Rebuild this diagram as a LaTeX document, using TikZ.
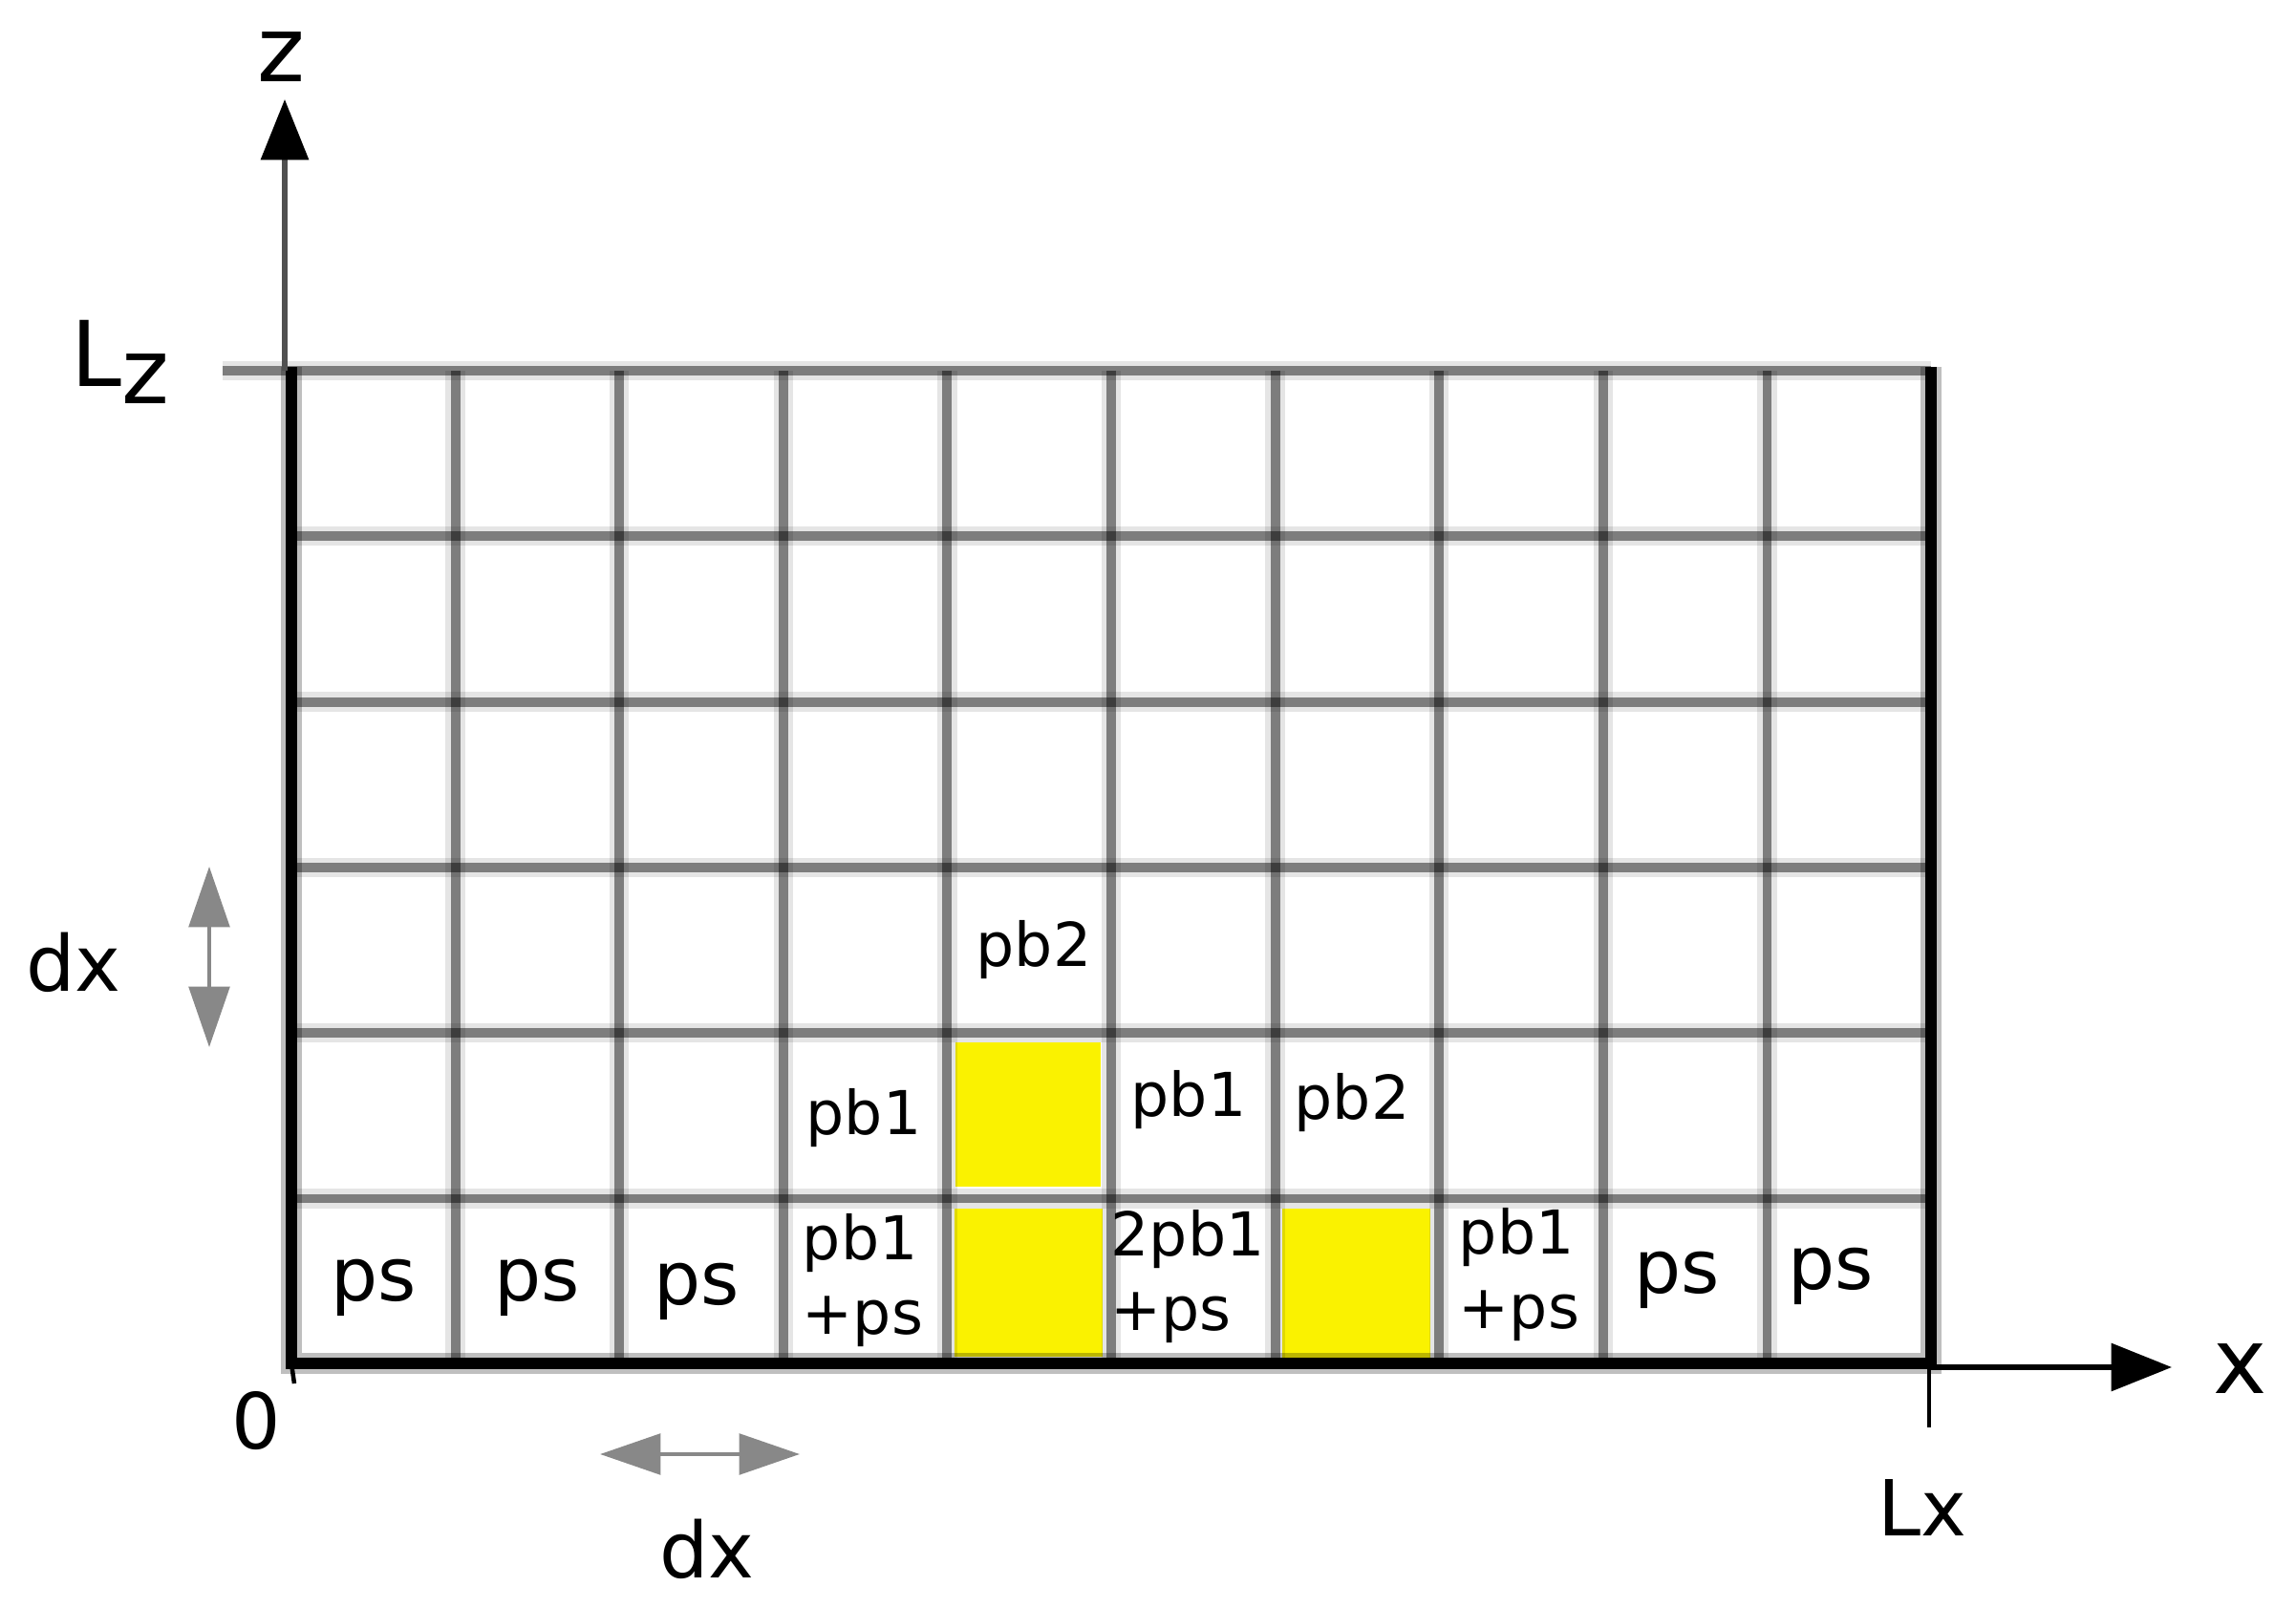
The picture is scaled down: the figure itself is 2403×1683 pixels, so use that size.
\documentclass[tikz,border=0pt]{standalone}
\usepackage{fontspec}
\setmainfont{DejaVu Sans}
\usetikzlibrary{arrows.meta}
\definecolor{cellyellow}{RGB}{250,242,0}
\definecolor{arrowgray}{RGB}{136,136,136}
\definecolor{axisgray}{RGB}{80,80,80}
\begin{document}
\begin{tikzpicture}[x=0.01cm,y=-0.01cm,
  gridhalo/.style={draw=black,draw opacity=0.10,line width=5.8pt},
  gridline/.style={draw=black,draw opacity=0.45,line width=2.8pt},
  borderhalo/.style={draw=black,draw opacity=0.25,line width=6.0pt,line cap=butt,line join=miter},
  borderline/.style={draw=black,line width=3.6pt,line cap=butt,line join=miter},
  yellowcell/.style={fill=cellyellow},
  axisline/.style={draw=axisgray,line width=1.6pt,-{Triangle[length=18pt,width=14pt,color=black]}},
  axisxline/.style={draw=black,line width=1.5pt,-{Triangle[length=18pt,width=14pt,color=black]}},
  dxarrow/.style={draw=arrowgray,line width=1.4pt,{Triangle[length=18pt,width=12pt]}-{Triangle[length=18pt,width=12pt]}},
  ticklinestyle/.style={draw=black,line width=1.3pt},
  cellps/.style={font=\fontsize{22}{26}\selectfont,inner sep=0pt},
  cellpb/.style={font=\fontsize{18}{22}\selectfont,inner sep=0pt,align=left},
  biglabel/.style={font=\fontsize{27}{30}\selectfont,inner sep=0pt},
  midlabel/.style={font=\fontsize{23}{26}\selectfont,inner sep=0pt}]
\useasboundingbox (0,0) rectangle (2403,1683);
\fill[white] (0,0) rectangle (2403,1683);

% yellow cells
\fill[yellowcell] (1000,1091) rectangle (1152,1242);
\fill[yellowcell] (999,1265) rectangle (1154,1420);
\fill[yellowcell] (1342,1265) rectangle (1497,1421);

% grid halo
\foreach \i in {1,...,9}
  \draw[gridhalo] ({305+\i*171.6},388) -- ({305+\i*171.6},1428);
\foreach \j in {1,...,5}
  \draw[gridhalo] (305,{388+\j*173.3}) -- (2021,{388+\j*173.3});
\coordinate (lzend) at (233,388);
\coordinate (topright) at (2021,388);
\draw[gridhalo] (lzend) -- (topright);
% grid core
\foreach \i in {1,...,9}
  \draw[gridline] ({305+\i*171.6},388) -- ({305+\i*171.6},1428);
\foreach \j in {1,...,5}
  \draw[gridline] (305,{388+\j*173.3}) -- (2021,{388+\j*173.3});
\draw[gridline] (lzend) -- (topright);

% borders
\coordinate (tl) at (305,384);
\coordinate (bl) at (305,1427);
\coordinate (br) at (2021,1427);
\coordinate (tr) at (2021,384);
\draw[borderhalo] (tl) -- (bl) -- (br) -- (tr);
\draw[borderline] (tl) -- (bl) -- (br) -- (tr);
\coordinate (otick) at (308,1448);
\draw[ticklinestyle] (bl) -- (otick);

% axes
\coordinate (zbase) at (298,388);
\coordinate (ztip) at (298,104);
\draw[axisline] (zbase) -- (ztip);
\coordinate (xbase) at (2021,1431);
\coordinate (xtip) at (2273,1431);
\draw[axisxline] (xbase) -- (xtip);
\coordinate (lxtop) at (2019,1427);
\coordinate (lxbot) at (2019,1494);
\draw[ticklinestyle] (lxtop) -- (lxbot);

% dx arrows
\coordinate (dxl) at (628,1522);
\coordinate (dxr) at (837,1522);
\draw[dxarrow] (dxl) -- (dxr);
\coordinate (dxt) at (219,907);
\coordinate (dxb) at (219,1096);
\draw[dxarrow] (dxt) -- (dxb);

% axis labels
\node[biglabel] (zlab) at (294,60) {z};
\node[biglabel,anchor=base west] (lzlab) at (74,405) {L\raisebox{-5pt}{z}};
\node[biglabel] (xlab) at (2345,1433) {x};
\node[midlabel] (lxlab) at (2012,1578) {Lx};
\node[midlabel] (zerolab) at (268,1487) {0};
\node[midlabel] (dxbot) at (740,1621) {dx};
\node[midlabel] (dxleft) at (77,1007) {dx};

% cell labels bottom row
\node[cellps] (ps1) at (391,1348) {ps};
\node[cellps] (ps2) at (562,1348) {ps};
\node[cellps] (ps3) at (729,1352) {ps};
\node[cellpb] (c4) at (903,1340) {pb1\\+ps};
\node[cellpb] (c6) at (1243,1336) {2pb1\\+ps};
\node[cellpb] (c8) at (1590,1334) {pb1\\+ps};
\node[cellps] (ps9) at (1755,1340) {ps};
\node[cellps] (ps10) at (1916,1336) {ps};

% row 5
\node[cellpb] (r5a) at (904,1170) {pb1};
\node[cellpb] (r5b) at (1244,1151) {pb1};
\node[cellpb] (r5c) at (1415,1154) {pb2};

% row 4
\node[cellpb] (r4a) at (1082,994) {pb2};
\end{tikzpicture}
\end{document}
